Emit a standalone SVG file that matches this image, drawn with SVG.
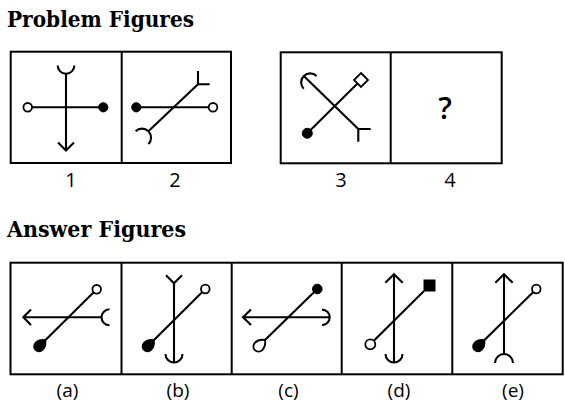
<svg xmlns="http://www.w3.org/2000/svg" xmlns:xlink="http://www.w3.org/1999/xlink" width="565" height="406" viewBox="0 0 565 406">
<style>
.ln{fill:none;stroke:#000;stroke-width:2.1;stroke-linecap:butt}
.bx{fill:none;stroke:#000;stroke-width:2}
.op{fill:#fff;stroke:#000;stroke-width:1.8}
.fl{fill:#000;stroke:#000;stroke-width:1}
.title{font-family:"DejaVu Serif","Liberation Serif",serif;font-weight:bold;font-size:22px;fill:#000}
.num{font-family:"Open Sans","Liberation Sans",sans-serif;font-size:20px;fill:#000;text-anchor:middle}
.q{font-family:"Open Sans","Liberation Sans",sans-serif;font-size:30px;font-weight:600;fill:#000;text-anchor:middle}
.lab{font-family:"Open Sans","Liberation Sans",sans-serif;font-size:19px;fill:#000;text-anchor:middle}
</style>
<defs>
<path id="tear" d="M6,0 C4,-2.8 2,-4 -1,-4 A4 4 0 0 0 -1,4 C2,4 4,2.8 6,0 Z"/>
</defs>
<rect width="565" height="406" fill="#fff"/>
<text class="title" x="7" y="27" textLength="187" lengthAdjust="spacingAndGlyphs">Problem Figures</text>
<text class="title" x="7" y="237" textLength="179" lengthAdjust="spacingAndGlyphs">Answer Figures</text>

<g id="problem-frames">
<rect class="bx" x="10.7" y="51.7" width="220.3" height="111.3"/>
<line class="bx" x1="121.7" y1="51.7" x2="121.7" y2="163"/>
<rect class="bx" x="280.7" y="52.3" width="221" height="111"/>
<line class="bx" x1="390.7" y1="52.3" x2="390.7" y2="163.3"/>
</g>

<g id="fig1">
<path class="ln" d="M57.7,65.5 A8.3 8.3 0 0 0 74.3,65.5"/>
<line class="ln" x1="66" y1="73.8" x2="66" y2="150.5"/>
<polyline class="ln" points="58,142.5 66,150.5 74,142.5"/>
<line class="ln" x1="32" y1="107.3" x2="99" y2="107.3"/>
<circle class="op" cx="27.7" cy="107.3" r="4.3"/>
<circle class="fl" cx="103.3" cy="107.3" r="4.6"/>
<text class="num" x="71" y="187">1</text>
</g>

<g id="fig2">
<line class="ln" x1="140" y1="107.3" x2="208.7" y2="107.3"/>
<circle class="fl" cx="136.3" cy="107.3" r="4.6"/>
<circle class="op" cx="213" cy="107.3" r="4.3"/>
<line class="ln" x1="148.4" y1="131.3" x2="198" y2="84.3"/>
<polyline class="ln" points="198,71 198,84.3 209.7,84.3"/>
<path class="ln" d="M135.6,131.3 A9 9 0 0 1 148.4,144.1"/>
<text class="num" x="175" y="187">2</text>
</g>

<g id="fig3">
<line class="ln" x1="303.8" y1="76" x2="358.3" y2="129"/>
<path class="ln" d="M303.8,88.8 A9 9 0 0 1 316.6,76"/>
<polyline class="ln" points="358.3,141.7 358.3,129 370.7,129"/>
<line class="ln" x1="307.3" y1="133.3" x2="357.5" y2="83.5"/>
<circle class="fl" cx="307.3" cy="133.3" r="5"/>
<polygon class="op" points="361,73 368,80 361,87 354,80"/>
<text class="num" x="341" y="187">3</text>
</g>

<g id="fig4">
<text class="q" x="445" y="119">?</text>
<text class="num" x="450" y="187">4</text>
</g>

<g id="answer-frames">
<rect class="bx" x="10.5" y="262.7" width="552.2" height="111.6"/>
<line class="bx" x1="121.5" y1="262.7" x2="121.5" y2="374.3"/>
<line class="bx" x1="231.7" y1="262.7" x2="231.7" y2="374.3"/>
<line class="bx" x1="341.7" y1="262.7" x2="341.7" y2="374.3"/>
<line class="bx" x1="452.3" y1="262.7" x2="452.3" y2="374.3"/>
</g>

<g id="ans-a">
<line class="ln" x1="23.3" y1="317.3" x2="101.5" y2="317.3"/>
<polyline class="ln" points="31,309.5 23.3,317.3 31,325.1"/>
<path class="ln" d="M109.5,309.3 A8 8 0 0 0 109.5,325.3"/>
<line class="ln" x1="45.5" y1="340" x2="93.7" y2="292.3"/>
<circle class="op" cx="96.7" cy="289.3" r="4.3"/>
<use xlink:href="#tear" class="fl" transform="translate(40,345.5) rotate(-45) scale(1.3)"/>
<text class="lab" x="67.5" y="397">(a)</text>
</g>

<g id="ans-b">
<line class="ln" x1="174" y1="283.3" x2="174" y2="362.5"/>
<polyline class="ln" points="166,275.3 174,283.3 182,275.3"/>
<path class="ln" d="M165.5,354 A8.5 8.5 0 0 0 182.5,354"/>
<line class="ln" x1="154" y1="340" x2="202.3" y2="292"/>
<circle class="op" cx="205.3" cy="289" r="4.3"/>
<use xlink:href="#tear" class="fl" transform="translate(148.5,345.5) rotate(-45) scale(1.3)"/>
<text class="lab" x="178" y="397">(b)</text>
</g>

<g id="ans-c">
<line class="ln" x1="243" y1="317.3" x2="329.7" y2="317.3"/>
<polyline class="ln" points="251,309.5 243,317.3 251,325.1"/>
<path class="ln" d="M322,309.6 A7.7 7.7 0 0 1 322,325"/>
<line class="ln" x1="265" y1="340" x2="317.3" y2="289"/>
<circle class="fl" cx="317.3" cy="289" r="4.8"/>
<use xlink:href="#tear" class="op" transform="translate(259.5,345.5) rotate(-45) scale(1.3)" style="stroke-width:1.4"/>
<text class="lab" x="288.5" y="397">(c)</text>
</g>

<g id="ans-d">
<line class="ln" x1="394" y1="274.3" x2="394" y2="362.5"/>
<polyline class="ln" points="385.3,282.8 394,274.3 402.7,282.8"/>
<path class="ln" d="M385.5,354 A8.5 8.5 0 0 0 402.5,354"/>
<line class="ln" x1="373.8" y1="340.8" x2="424" y2="291"/>
<rect class="fl" x="424" y="280" width="11" height="11"/>
<circle class="op" cx="370.3" cy="344.3" r="5"/>
<text class="lab" x="399" y="397">(d)</text>
</g>

<g id="ans-e">
<line class="ln" x1="504" y1="274.3" x2="504" y2="354"/>
<polyline class="ln" points="495.3,282.8 504,274.3 512.7,282.8"/>
<path class="ln" d="M495,363 A9 9 0 0 1 513,363"/>
<line class="ln" x1="484.5" y1="340" x2="533.3" y2="292"/>
<circle class="op" cx="536.3" cy="289" r="4.3"/>
<use xlink:href="#tear" class="fl" transform="translate(479,345.5) rotate(-45) scale(1.3)"/>
<text class="lab" x="513" y="397">(e)</text>
</g>
</svg>
